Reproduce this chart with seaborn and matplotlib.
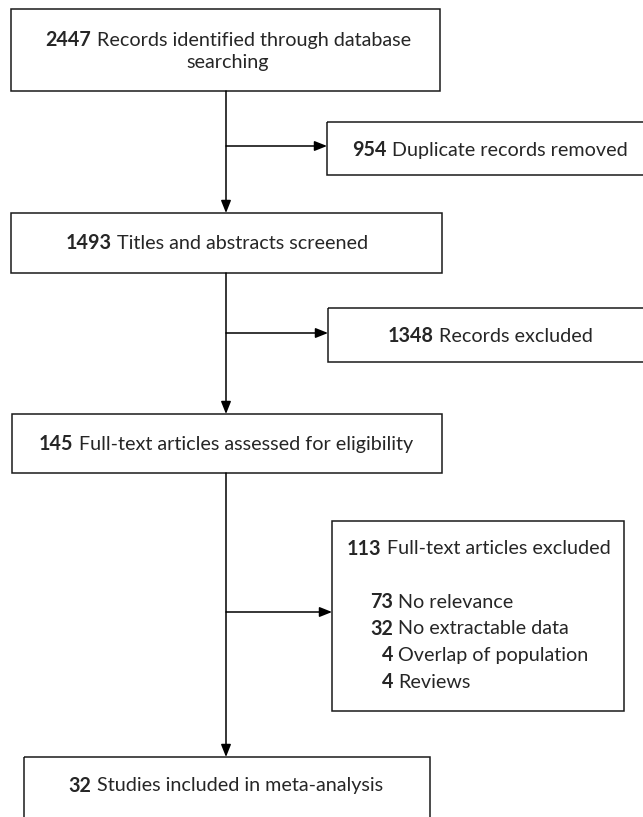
import matplotlib
matplotlib.use("Agg")
import matplotlib.pyplot as plt
import seaborn as sns
from matplotlib.patches import Rectangle

# PRISMA flujo - conteos
conteos = [2447, 954, 1493, 1348, 145, 113, 32]
textos = [
    "Records identified through database",
    "Duplicate records removed",
    "Titles and abstracts screened",
    "Records excluded",
    "Full-text articles assessed for eligibility",
    "Full-text articles excluded",
    "Studies included in meta-analysis",
]
motivos_n = [73, 32, 4, 4]
motivos = ["No relevance", "No extractable data", "Overlap of population", "Reviews"]

# cajas en pixeles (x0, y0, x1, y1)
cajas = [
    (11, 9, 440, 91),
    (327, 122, 650, 175),
    (11, 213, 442, 273),
    (328, 308, 650, 362),
    (12, 414, 442, 473),
    (332, 521, 624, 711),
    (24, 757, 430, 830),
]

FS = 14.2
COLOR_BORDE = "#1a1a1a"
X_EJE = 226

sns.set_style("white")
plt.rcParams["font.family"] = ["Lato", "DejaVu Sans"]

fig = plt.figure(figsize=(6.43, 8.17), dpi=100)
ax = fig.add_axes([0, 0, 1, 1])
ax.set_xlim(0, 643)
ax.set_ylim(817, 0)
ax.axis("off")
rend = fig.canvas.get_renderer()


def texto_mixto(x, y, num, resto, modo="center"):
    tb = ax.text(x, y, str(num), fontsize=FS, fontweight="bold", va="center", ha="left")
    tr = ax.text(x, y, resto, fontsize=FS, va="center", ha="left")
    wb = tb.get_window_extent(rend).width
    wr = tr.get_window_extent(rend).width
    gap = FS * 0.38
    if modo == "center":
        x0 = x - (wb + gap + wr) / 2
    elif modo == "numright":
        x0 = x - wb
    else:
        x0 = x
    tb.set_x(x0)
    tr.set_x(x0 + wb + gap)


for (x0, y0, x1, y1) in cajas:
    ax.add_patch(Rectangle((x0, y0), x1 - x0, y1 - y0, fill=False,
                           edgecolor=COLOR_BORDE, linewidth=1.1, clip_on=True))

# textos de cajas
texto_mixto(228, 40, conteos[0], textos[0])
ax.text(228, 62, "searching", fontsize=FS, va="center", ha="center")
texto_mixto(490, 150, conteos[1], textos[1])
texto_mixto(217, 243, conteos[2], textos[2])
texto_mixto(490, 336, conteos[3], textos[3])
texto_mixto(226, 444, conteos[4], textos[4])
texto_mixto(347, 549, conteos[5], textos[5], modo="left")
for i, (n, m) in enumerate(zip(motivos_n, motivos)):
    texto_mixto(393, 602 + i * 26.7, n, m, modo="numright")
texto_mixto(226, 786, conteos[6], textos[6])

# conectores verticales con flecha
flecha = dict(arrowstyle="-|>,head_length=0.75,head_width=0.3", color="black",
              lw=1.1, shrinkA=0, shrinkB=0)
tramos = [(91, 213), (273, 414), (473, 757)]
for ya, yb in tramos:
    ax.annotate("", xy=(X_EJE, yb), xytext=(X_EJE, ya), arrowprops=flecha)

# ramas horizontales
ramas = [(146, 327), (333, 328), (612, 332)]
for yr, xr in ramas:
    ax.annotate("", xy=(xr, yr), xytext=(X_EJE, yr), arrowprops=flecha)

fig.savefig("out.png", dpi=100, facecolor="white")
